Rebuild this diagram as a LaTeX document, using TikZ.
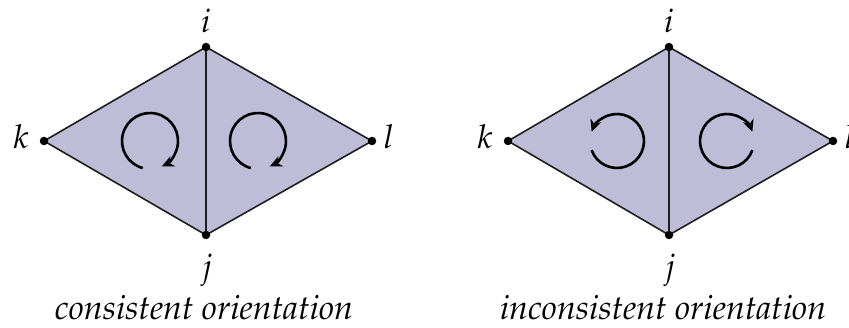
\documentclass[tikz,border=0pt]{standalone}
\usepackage[T1]{fontenc}
\usepackage{mathpazo}
\usetikzlibrary{arrows.meta}
\definecolor{facefill}{RGB}{190,188,214}
\definecolor{edgecol}{RGB}{30,30,30}
\tikzset{
  vtx/.style={circle,fill=black,inner sep=0pt,minimum size=8.5pt},
  edgeline/.style={draw=edgecol,line width=1.6pt},
  lbl/.style={inner sep=0pt,anchor=base,font=\fontsize{33}{38}\selectfont},
  captext/.style={inner sep=0pt,anchor=base,font=\fontsize{34}{40}\selectfont\itshape},
  orient/.style={line width=2.6pt,-{Stealth[length=12pt,width=11pt]}}
}
\begin{document}
\begin{tikzpicture}[x=1pt,y=1pt]
\useasboundingbox (0,0) rectangle (849,327);
% left diamond
\coordinate (Li) at (206,280);
\coordinate (Lk) at (44,186);
\coordinate (Ll) at (372,186);
\coordinate (Lj) at (206,92);
\fill[facefill] (Li) -- (Ll) -- (Lj) -- (Lk) -- cycle;
\draw[edgeline] (Lk) -- (Li) -- (Ll) -- (Lj) -- cycle;
\draw[edgeline,line width=1.1pt] (Li) -- (Lj);
\node[vtx] (Lvi) at (Li) {};
\node[vtx] (Lvk) at (Lk) {};
\node[vtx] (Lvl) at (Ll) {};
\node[vtx] (Lvj) at (Lj) {};
\node[lbl] (Lti) at (206,294) {$i$};
\node[lbl] (Ltj) at (207,49) {$j$};
\node[lbl] (Ltk) at (21,178) {$k$};
\node[lbl] (Ltl) at (389,178) {$l$};
\draw[orient] (150,186) ++(255:28) arc[start angle=255,end angle=-65,radius=28];
\draw[orient] (258,186) ++(255:28) arc[start angle=255,end angle=-65,radius=28];
\node[captext] (Lcap) at (204,8) {consistent orientation};
% right diamond
\coordinate (Ri) at (669,280);
\coordinate (Rk) at (508,186);
\coordinate (Rl) at (833,186);
\coordinate (Rj) at (669,92);
\fill[facefill] (Ri) -- (Rl) -- (Rj) -- (Rk) -- cycle;
\draw[edgeline] (Rk) -- (Ri) -- (Rl) -- (Rj) -- cycle;
\draw[edgeline,line width=1.1pt] (Ri) -- (Rj);
\node[vtx] (Rvi) at (Ri) {};
\node[vtx] (Rvk) at (Rk) {};
\node[vtx] (Rvl) at (Rl) {};
\node[vtx] (Rvj) at (Rj) {};
\node[lbl] (Rti) at (669,294) {$i$};
\node[lbl] (Rtj) at (670,49) {$j$};
\node[lbl] (Rtk) at (485,178) {$k$};
\node[lbl] (Rtl) at (850,178) {$l$};
\draw[orient] (617,186) ++(200:27) arc[start angle=200,end angle=520,radius=27];
\draw[orient] (727,186) ++(-20:27) arc[start angle=-20,end angle=-340,radius=27];
\node[captext] (Rcap) at (663,8) {inconsistent orientation};
\end{tikzpicture}
\end{document}
